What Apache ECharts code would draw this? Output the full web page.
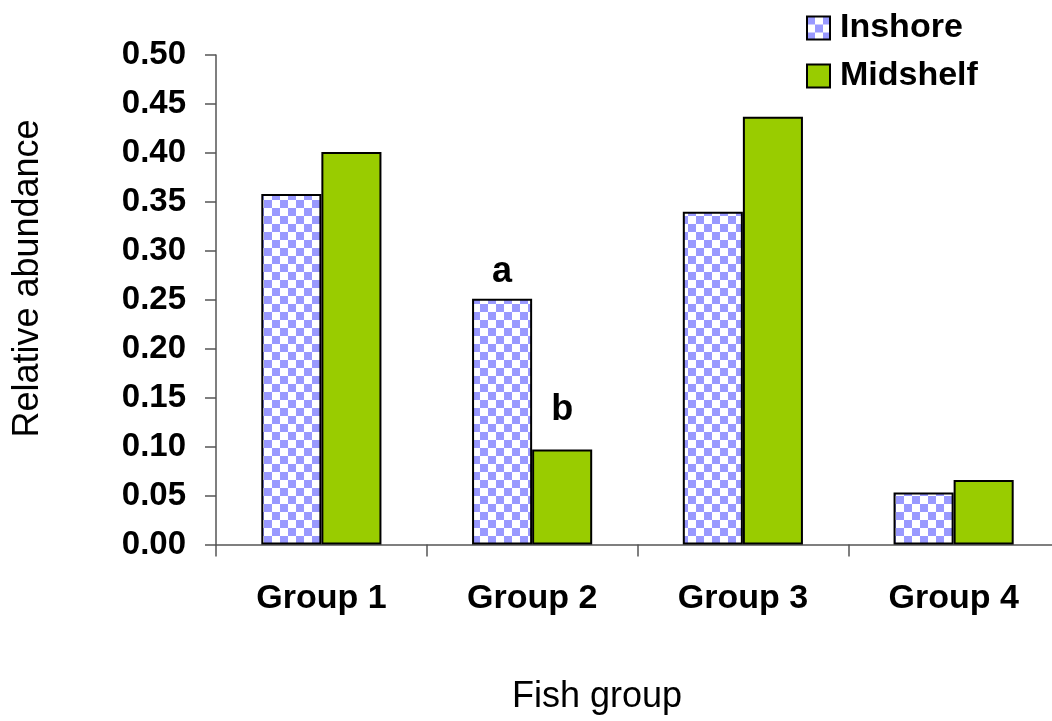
<!DOCTYPE html>
<html><head><meta charset="utf-8">
<script src="https://cdn.jsdelivr.net/npm/echarts@6/dist/echarts.min.js"></script>
<style>html,body{margin:0;padding:0;background:#fff;overflow:hidden}#c{width:1062px;height:721px}</style>
</head><body><div id="c"></div>
<script>
const categories = ['Group 1', 'Group 2', 'Group 3', 'Group 4'];
const inshore = [0.358, 0.251, 0.340, 0.053];
const midshelf = [0.401, 0.097, 0.437, 0.066];
const inshoreLabels = ['', 'a', '', ''];
const midshelfLabels = ['', 'b', '', ''];
const xTitle = 'Fish group';
const yTitle = 'Relative abundance';

function makePattern(cell) {
  const pc = document.createElement('canvas');
  pc.width = cell * 2; pc.height = cell * 2;
  const g = pc.getContext('2d');
  g.fillStyle = '#ffffff'; g.fillRect(0, 0, cell * 2, cell * 2);
  g.fillStyle = '#9999ff'; g.fillRect(0, 0, cell, cell); g.fillRect(cell, cell, cell, cell);
  return { image: pc, repeat: 'repeat' };
}
const pattern = makePattern(8);
const legendPattern = makePattern(8);

const font = 'Liberation Sans, Arial, sans-serif';
const labelBase = { position: 'top', fontSize: 36, fontWeight: 'bold', color: '#000', fontFamily: font };
const chart = echarts.init(document.getElementById('c'), null, { renderer: 'canvas' });
chart.setOption({
  animation: false,
  textStyle: { fontFamily: font },
  grid: { left: 216, right: 3, top: 55, bottom: 176.5, containLabel: false },
  legend: {
    left: 806, top: 10, padding: 0, orient: 'vertical', icon: 'rect', itemWidth: 23, itemHeight: 23, itemGap: 12,
    textStyle: { fontSize: 34, lineHeight: 36, fontWeight: 'bold', color: '#000', fontFamily: font, padding: [0, 0, 0, 5] },
    data: [
      { name: 'Inshore', itemStyle: { color: legendPattern, borderColor: '#000', borderWidth: 2 } },
      { name: 'Midshelf', itemStyle: { color: '#99cc00', borderColor: '#000', borderWidth: 2 } }
    ]
  },
  graphic: [
    { type: 'text', x: 597, y: 697, style: { text: xTitle, fontSize: 36, fill: '#000', fontFamily: font, align: 'center', verticalAlign: 'middle' } },
    { type: 'text', x: 28, y: 278.5, rotation: Math.PI / 2, style: { text: yTitle, fontSize: 36, fill: '#000', fontFamily: font, align: 'center', verticalAlign: 'middle' } }
  ],
  xAxis: {
    type: 'category', data: categories,
    axisLine: { lineStyle: { color: '#555', width: 1.5 } },
    axisTick: { show: true, alignWithLabel: false, length: 12, lineStyle: { color: '#555', width: 1.5 } },
    axisLabel: { fontSize: 34, fontWeight: 'bold', color: '#000', margin: 37, fontFamily: font }
  },
  yAxis: {
    type: 'value', min: 0, max: 0.5, interval: 0.05,
    axisLine: { show: true, lineStyle: { color: '#555', width: 1.5 } },
    axisTick: { show: true, length: 11, lineStyle: { color: '#555', width: 1.5 } },
    splitLine: { show: false },
    axisLabel: { fontSize: 33, fontWeight: 'bold', color: '#000', margin: 30, fontFamily: font,
      formatter: v => v.toFixed(2) }
  },
  series: [
    {
      name: 'Inshore', type: 'bar', barGap: '0%', barCategoryGap: '43%',
      data: inshore.map((v, i) => ({ value: v, label: { show: inshoreLabels[i] !== '', formatter: inshoreLabels[i], distance: 9 } })),
      itemStyle: { color: pattern, borderColor: '#000', borderWidth: 2 },
      label: labelBase
    },
    {
      name: 'Midshelf', type: 'bar', barGap: '0%', barCategoryGap: '43%',
      data: midshelf.map((v, i) => ({ value: v, label: { show: midshelfLabels[i] !== '', formatter: midshelfLabels[i], distance: 21 } })),
      itemStyle: { color: '#99cc00', borderColor: '#000', borderWidth: 2 },
      label: labelBase
    }
  ]
});
</script></body></html>
